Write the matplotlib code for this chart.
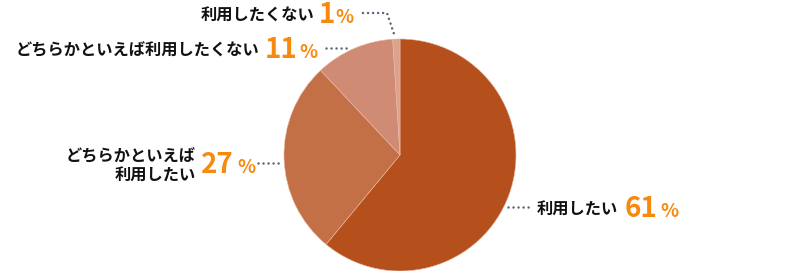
import matplotlib.pyplot as plt

plt.rcParams['font.family'] = ['Noto Sans CJK JP', 'DejaVu Sans']

# data (clockwise from 12 o'clock)
labels = ["利用したい", "どちらかといえば\n利用したい", "どちらかといえば利用したくない", "利用したくない"]
values = [61, 27, 11, 1]
colors = ["#B5501D", "#C37047", "#CF8B73", "#DDA28E"]

W, H = 800, 271
fig = plt.figure(figsize=(8, 2.71), dpi=100)
ax = fig.add_axes([0, 0, 1, 1])


def Y(y):
    # pixel row (from top) -> data y
    return H - y


ax.pie(values, colors=colors, startangle=90, counterclock=False,
       center=(400, Y(155)), radius=116,
       wedgeprops=dict(edgecolor="#E8B8A4", linewidth=0.4))
ax.set_xlim(0, W)
ax.set_ylim(0, H)
ax.set_aspect('auto')
ax.axis('off')

orange = "#F7890F"
dotc = "#5B6275"
dot_style = dict(color=dotc, linewidth=1.8, linestyle=(0, (0.01, 2.0)),
                 dash_capstyle='round')

# leader lines
ax.plot([363, 387, 395], [Y(13), Y(13), Y(37)], **dot_style)
ax.plot([326, 348], [Y(48), Y(48)], **dot_style)
ax.plot([258, 283], [Y(163), Y(163)], **dot_style)
ax.plot([508, 533], [Y(207), Y(207)], **dot_style)

lab_kw = dict(fontsize=11.7, fontweight='bold', color="#111111", va='baseline')
num_kw = dict(fontsize=20, fontweight='bold', color=orange, va='baseline')
pct_kw = dict(fontsize=13.5, fontweight='bold', color=orange, va='baseline')

# 1%
ax.text(314, Y(21), labels[3], ha='right', **lab_kw)
ax.text(319, Y(23), str(values[3]), ha='left', **num_kw)
ax.text(335, Y(23), "%", ha='left', **pct_kw)

# 11%
ax.text(259, Y(55), labels[2], ha='right', **lab_kw)
ax.text(265, Y(58), str(values[2]), ha='left', **num_kw)
ax.text(299, Y(58), "%", ha='left', **pct_kw)

# 27%
line1, line2 = labels[1].split("\n")
ax.text(196, Y(161), line1, ha='right', **lab_kw)
ax.text(196, Y(181), line2, ha='right', **lab_kw)
ax.text(201, Y(173), str(values[1]), ha='left', **num_kw)
ax.text(237, Y(173), "%", ha='left', **pct_kw)

# 61%
ax.text(537, Y(215), labels[0], ha='left', **lab_kw)
ax.text(625, Y(217), str(values[0]), ha='left', **num_kw)
ax.text(660, Y(217), "%", ha='left', **pct_kw)

fig.savefig("out.png", dpi=100)
